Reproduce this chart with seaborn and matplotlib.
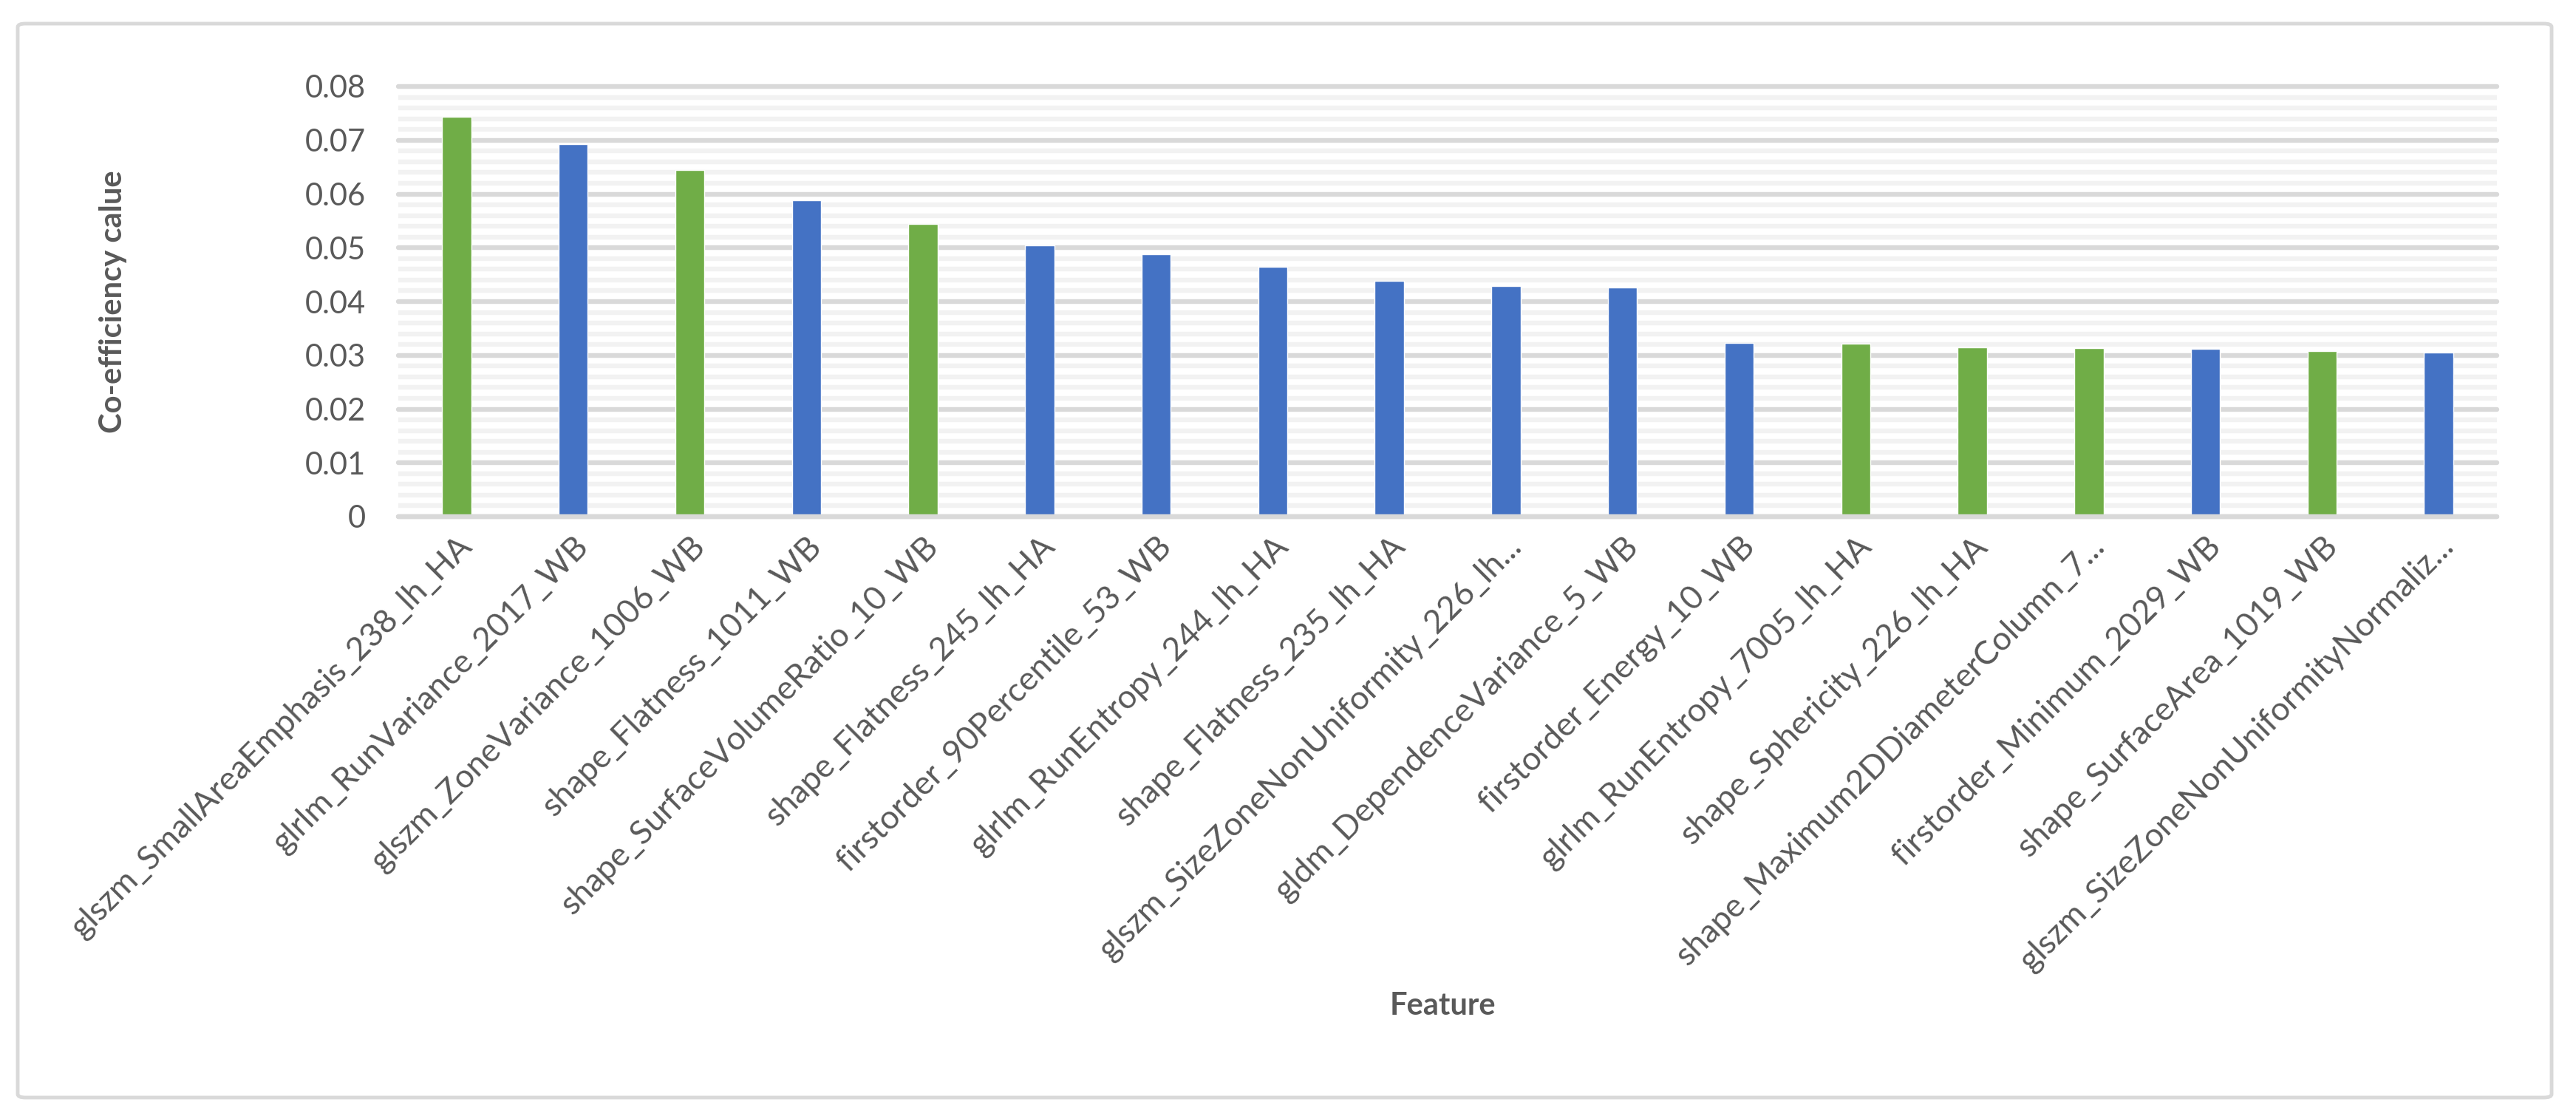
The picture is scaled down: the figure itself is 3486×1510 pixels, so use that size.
import matplotlib
matplotlib.use("Agg")
import matplotlib.pyplot as plt
import seaborn as sns
import pandas as pd
from matplotlib.ticker import MultipleLocator
from matplotlib.patches import FancyBboxPatch

features = [
    "glszm_SmallAreaEmphasis_238_lh_HA",
    "glrlm_RunVariance_2017_WB",
    "glszm_ZoneVariance_1006_WB",
    "shape_Flatness_1011_WB",
    "shape_SurfaceVolumeRatio_10_WB",
    "shape_Flatness_245_lh_HA",
    "firstorder_90Percentile_53_WB",
    "glrlm_RunEntropy_244_lh_HA",
    "shape_Flatness_235_lh_HA",
    "glszm_SizeZoneNonUniformity_226_lh...",
    "gldm_DependenceVariance_5_WB",
    "firstorder_Energy_10_WB",
    "glrlm_RunEntropy_7005_lh_HA",
    "shape_Sphericity_226_lh_HA",
    "shape_Maximum2DDiameterColumn_7...",
    "firstorder_Minimum_2029_WB",
    "shape_SurfaceArea_1019_WB",
    "glszm_SizeZoneNonUniformityNormaliz...",
]
values = [0.0743, 0.0693, 0.0645, 0.0588, 0.0545, 0.0505, 0.0488, 0.0464, 0.0439,
          0.0429, 0.0426, 0.0323, 0.0322, 0.0315, 0.0314, 0.0312, 0.0308, 0.0305]
groups = ["green", "blue", "green", "blue", "green", "blue", "blue", "blue", "blue",
          "blue", "blue", "blue", "green", "green", "green", "blue", "green", "blue"]
palette = {"green": "#70AD47", "blue": "#4472C4"}
y_ticks = [0, 0.01, 0.02, 0.03, 0.04, 0.05, 0.06, 0.07, 0.08]
y_ticklabels = ["0", "0.01", "0.02", "0.03", "0.04", "0.05", "0.06", "0.07", "0.08"]

df = pd.DataFrame({"Feature": features, "Value": values, "Group": groups})

sns.set_theme(style="white")
plt.rcParams["font.family"] = ["Lato", "DejaVu Sans"]

W, H = 3486, 1510
fig = plt.figure(figsize=(W / 100, H / 100), dpi=100)
fig.patch.set_facecolor("white")

# outer border
border = FancyBboxPatch((24 / W, 1 - 1485 / H), (3453 - 24) / W, (1485 - 32) / H,
                        boxstyle="round,pad=0,rounding_size=0.003",
                        transform=fig.transFigure, facecolor="none",
                        edgecolor="#D9D9D9", linewidth=3.5)
fig.patches.append(border)

left, right, top, bottom = 539, 3379, 117, 699
ax = fig.add_axes([left / W, 1 - bottom / H, (right - left) / W, (bottom - top) / H])

sns.barplot(data=df, x="Feature", y="Value", hue="Group", palette=palette,
            dodge=False, width=0.25, legend=False, ax=ax, zorder=2,
            saturation=1)

ax.set_ylim(0, 0.08)
ax.set_xlim(-0.5, len(features) - 0.5)
ax.set_yticks(y_ticks)
ax.set_yticklabels(y_ticklabels)
ax.yaxis.set_minor_locator(MultipleLocator(0.002))
ax.set_axisbelow(True)
ax.grid(False)
ax.grid(which="minor", axis="y", color="#F2F2F2", linewidth=4.6)
ax.grid(which="major", axis="y", color="#D9D9D9", linewidth=4.6)
for ln in ax.get_ygridlines():
    ln.set_clip_on(False)
ax.axhline(0, color="#D9D9D9", linewidth=4.6, zorder=3, clip_on=False)

for s in ax.spines.values():
    s.set_visible(False)

ax.tick_params(axis="both", which="both", length=0)
ax.tick_params(axis="y", pad=32, labelsize=30, labelcolor="#595959")
ax.tick_params(axis="x", pad=14, labelsize=32, labelcolor="#595959")
ax.set_xticks(range(len(features)))
ax.set_xticklabels(features, rotation=45, ha="right", rotation_mode="anchor")

ax.set_xlabel("")
ax.set_ylabel("")
fig.text(1952 / W, 1 - 1361 / H, "Feature", ha="center", va="center",
         fontsize=30, fontweight="bold", color="#595959")
fig.text(153 / W, 1 - 408 / H, "Co-efficiency calue", ha="center", va="center",
         rotation=90, fontsize=30, fontweight="bold", color="#595959")

fig.savefig("out.png", dpi=100, facecolor="white")
